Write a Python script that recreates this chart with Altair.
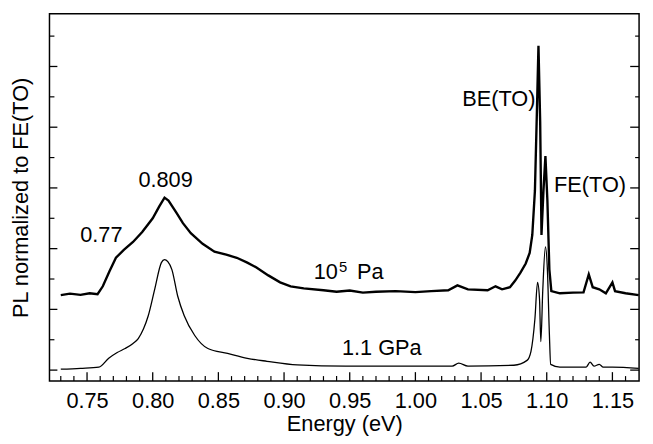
import altair as alt
import pandas as pd

# ---- data (y in units of the left-axis tick spacing) ----
energy_1e5pa = [0.730, 0.737, 0.745, 0.752, 0.758, 0.762, 0.767, 0.772, 0.778, 0.785,
                0.792, 0.800, 0.805, 0.809, 0.812, 0.818, 0.823, 0.829, 0.838, 0.847,
                0.856, 0.864, 0.872, 0.879, 0.888, 0.897, 0.905, 0.915, 0.930, 0.940,
                0.950, 0.960, 0.970, 0.985, 1.000, 1.012, 1.025, 1.032, 1.040, 1.055,
                1.061, 1.066, 1.072, 1.076, 1.080, 1.084, 1.087, 1.089, 1.091, 1.0925,
                1.0937, 1.0950, 1.0960, 1.0975, 1.0990, 1.1005, 1.1020, 1.1035, 1.110,
                1.120, 1.128, 1.132, 1.135, 1.140, 1.145, 1.150, 1.152, 1.160, 1.170]
pl_1e5pa = [2.47, 2.52, 2.48, 2.53, 2.50, 2.76, 3.25, 3.70, 3.96, 4.22,
            4.55, 5.00, 5.39, 5.68, 5.58, 5.19, 4.84, 4.51, 4.16, 3.90,
            3.80, 3.70, 3.54, 3.38, 3.12, 2.89, 2.76, 2.69, 2.63, 2.58,
            2.62, 2.55, 2.58, 2.60, 2.57, 2.60, 2.63, 2.79, 2.66, 2.63,
            2.76, 2.66, 2.73, 2.95, 3.21, 3.51, 3.86, 4.45, 5.91, 8.50,
            10.68, 8.18, 4.45, 5.91, 7.05, 5.58, 3.31, 2.60, 2.53,
            2.55, 2.56, 3.15, 2.73, 2.66, 2.53, 2.89, 2.60, 2.53, 2.47]

energy_1p1gpa = [0.730, 0.745, 0.759, 0.7665, 0.773, 0.779, 0.785, 0.789, 0.793, 0.7966,
                 0.8015, 0.8066, 0.809, 0.8115, 0.8146, 0.819, 0.824, 0.832, 0.842, 0.857,
                 0.872, 0.887, 0.910, 0.947, 1.000, 1.028, 1.033, 1.040, 1.075, 1.085,
                 1.088, 1.091, 1.093, 1.0945, 1.0955, 1.097, 1.099, 1.1005, 1.102, 1.103,
                 1.110, 1.130, 1.133, 1.136, 1.140, 1.143, 1.150, 1.170]
pl_1p1gpa = [0.03, 0.06, 0.10, 0.39, 0.58, 0.71, 0.88, 1.04, 1.36, 1.79,
             2.66, 3.54, 3.64, 3.57, 3.31, 2.44, 1.79, 1.14, 0.71, 0.55,
             0.39, 0.29, 0.17, 0.13, 0.13, 0.13, 0.23, 0.13, 0.16, 0.32,
             0.62, 1.69, 2.89, 2.34, 0.94, 2.66, 4.06, 3.31, 1.20, 0.19,
             0.10, 0.10, 0.26, 0.13, 0.19, 0.10, 0.10, 0.06]

x_major_ticks = [0.75, 0.80, 0.85, 0.90, 0.95, 1.00, 1.05, 1.10, 1.15]
x_minor_ticks = [0.73, 0.74, 0.76, 0.77, 0.78, 0.79, 0.81, 0.82, 0.83, 0.84, 0.86, 0.87,
                 0.88, 0.89, 0.91, 0.92, 0.93, 0.94, 0.96, 0.97, 0.98, 0.99, 1.01, 1.02,
                 1.03, 1.04, 1.06, 1.07, 1.08, 1.09, 1.11, 1.12, 1.13, 1.14, 1.16]
y_major_ticks = [0, 2, 4, 6, 8, 10]
y_minor_ticks = [1, 3, 5, 7, 9, 11]

label_text = ["0.809", "0.77", "10", "Pa", "1.1 GPa", "BE(TO)", "FE(TO)"]
label_x = [0.8098, 0.7609, 0.9410, 0.9555, 0.9744, 1.0914, 1.1056]
label_y = [6.27, 4.45, 3.23, 3.23, 0.71, 8.93, 6.10]
label_align = ["center", "center", "right", "left", "center", "right", "left"]
sup_text = ["5"]
sup_x = [0.9418]
sup_y = [3.40]

# ---- layout ----
W, H = 597, 372
FONT = "Liberation Sans"
FS = 22

xs = alt.Scale(domain=[0.7214, 1.1703], nice=False, zero=False)
ys = alt.Scale(domain=[-0.36, 11.74], nice=False, zero=False)

x_axis = alt.Axis(values=x_major_ticks, format=".2f", title="Energy (eV)",
                  domain=False, ticks=False, grid=False, labelPadding=10,
                  titlePadding=2, labelFontSize=FS, titleFontSize=FS,
                  labelFont=FONT, titleFont=FONT, titleFontWeight="normal",
                  labelColor="black", titleColor="black")
y_axis = alt.Axis(title="PL normalized to FE(TO)", labels=False, ticks=False,
                  domain=False, grid=False, titlePadding=17, titleFontSize=FS,
                  titleFont=FONT, titleFontWeight="normal", titleColor="black")

X = alt.X("E:Q", scale=xs, axis=x_axis)
Y = alt.Y("PL:Q", scale=ys, axis=y_axis)

df_hi = pd.DataFrame({"E": energy_1e5pa, "PL": pl_1e5pa})
df_lo = pd.DataFrame({"E": energy_1p1gpa, "PL": pl_1p1gpa})

line_hi = alt.Chart(df_hi).mark_line(color="black", strokeWidth=2.4, clip=True).encode(x=X, y=Y)
line_lo = alt.Chart(df_lo).mark_line(color="black", strokeWidth=1.3, clip=True,
                                     interpolate="monotone").encode(x=X, y=Y)

df_lab = pd.DataFrame({"t": label_text, "E": label_x, "PL": label_y, "a": label_align})
texts = []
for al in ["center", "left", "right"]:
    sub = df_lab[df_lab["a"] == al]
    texts.append(alt.Chart(sub).mark_text(font=FONT, fontSize=FS, color="black",
                                          align=al, baseline="middle").encode(
        x=X, y=Y, text="t:N"))
df_sup = pd.DataFrame({"t": sup_text, "E": sup_x, "PL": sup_y})
sup = alt.Chart(df_sup).mark_text(font=FONT, fontSize=15, color="black",
                                  align="left", baseline="middle").encode(
    x=X, y=Y, text="t:N")

# inward ticks
df_xM = pd.DataFrame({"E": x_major_ticks})
df_xm = pd.DataFrame({"E": x_minor_ticks})
df_yM = pd.DataFrame({"PL": y_major_ticks})
df_ym = pd.DataFrame({"PL": y_minor_ticks})

xM = alt.Chart(df_xM).mark_rule(color="black", strokeWidth=1.3).encode(
    x=X, y=alt.value(H), y2=alt.value(H - 9))
xm = alt.Chart(df_xm).mark_rule(color="black", strokeWidth=1.2).encode(
    x=X, y=alt.value(H), y2=alt.value(H - 5))
yML = alt.Chart(df_yM).mark_rule(color="black", strokeWidth=1.3).encode(
    y=Y, x=alt.value(0), x2=alt.value(8))
ymL = alt.Chart(df_ym).mark_rule(color="black", strokeWidth=1.2).encode(
    y=Y, x=alt.value(0), x2=alt.value(5))
yMR = alt.Chart(df_yM).mark_rule(color="black", strokeWidth=1.3).encode(
    y=Y, x=alt.value(W), x2=alt.value(W - 9))
ymR = alt.Chart(df_ym).mark_rule(color="black", strokeWidth=1.2).encode(
    y=Y, x=alt.value(W), x2=alt.value(W - 4))

chart = alt.layer(line_hi, line_lo, *texts, sup, xM, xm, yML, ymL, yMR, ymR).properties(
    width=W, height=H, autosize="none",
    padding={"left": 42, "top": 3, "right": 6, "bottom": 58},
    background="white",
).configure_view(stroke="black", strokeWidth=1.5)

chart.save("out.html", embed_options={"renderer": "svg", "actions": False})
